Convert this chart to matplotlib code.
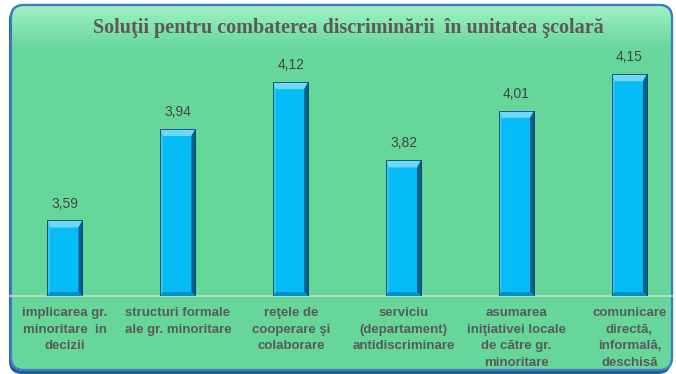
import matplotlib.pyplot as plt
import numpy as np
from matplotlib.patches import FancyBboxPatch, Polygon

# data
categories = [
    "implicarea gr.\nminoritare  in\ndecizii",
    "structuri formale\nale gr. minoritare",
    "reţele de\ncooperare şi\ncolaborare",
    "serviciu\n(departament)\nantidiscriminare",
    "asumarea\niniţiativei locale\nde către gr.\nminoritare",
    "comunicare\ndirectă,\ninformală,\ndeschisă",
]
values = [3.59, 3.94, 4.12, 3.82, 4.01, 4.15]
value_labels = ["3,59", "3,94", "4,12", "3,82", "4,01", "4,15"]
title = "Soluţii pentru combaterea discriminării  în unitatea şcolară"

# colours
green = '#66D69B'
frame_blue = '#3C7DC4'
shadow_blue = '#2A5A96'
bar_main = '#05BCF6'
bar_top = '#6FD8FF'
bar_right = '#0B5F8C'
bar_left = '#34C9F8'
bar_bottom = '#0392C6'
text_dark = '#454545'
label_gray = '#5A5A5A'

W, H = 676, 374
fig = plt.figure(figsize=(W / 100, H / 100), dpi=100)
fig.patch.set_facecolor('white')

# background frame
bg = fig.add_axes([0, 0, 1, 1])
bg.set_xlim(0, W)
bg.set_ylim(H, 0)
bg.axis('off')

fx, fy, fw, fh = 11, 5, 661, 365
shadow = FancyBboxPatch((fx - 2, fy + 2), fw + 1, fh + 2, boxstyle="round,pad=0,rounding_size=13",
                        facecolor=shadow_blue, edgecolor='none')
bg.add_patch(shadow)
frame = FancyBboxPatch((fx, fy), fw, fh, boxstyle="round,pad=0,rounding_size=13",
                       facecolor=green, edgecolor=frame_blue, linewidth=1.6)
bg.add_patch(frame)

# light band at the top of the frame
grad = np.linspace(0, 1, 100).reshape(-1, 1)
top_col = np.array([0.62, 0.94, 0.76])
base_col = np.array([0.40, 0.84, 0.61])
t = np.clip(grad / 0.12, 0, 1)
img = top_col * (1 - t[..., None]) + base_col * t[..., None]
img = np.repeat(img, 2, axis=1)
im = bg.imshow(img, extent=(fx, fx + fw, fy + fh, fy), aspect='auto', zorder=1)
im.set_clip_path(frame)
frame2 = FancyBboxPatch((fx, fy), fw, fh, boxstyle="round,pad=0,rounding_size=13",
                        facecolor='none', edgecolor=frame_blue, linewidth=1.6, zorder=2)
bg.add_patch(frame2)

fig.text(348 / W, 1 - 28 / H, title, ha='center', va='center', fontsize=14.5,
         fontweight='bold', family='Liberation Serif', color=label_gray)

# main axes
left_px, right_px = 8.5, 672
base_px, top_px = 296, 61
ax = fig.add_axes([left_px / W, (H - base_px) / H, (right_px - left_px) / W, (base_px - top_px) / H])
ax.set_facecolor('none')
step = 112.9
ax.set_xlim(-0.5, -0.5 + (right_px - left_px) / step)
ymin, ymax = 3.3, 4.2
ax.set_ylim(ymin, ymax)

x = np.arange(len(values))
heights = [v - ymin for v in values]
bars = ax.bar(x, heights, bottom=ymin, width=0.31, color=bar_main,
              edgecolor='#16465F', linewidth=0.6, zorder=3)

# bevel facets built from each bar's geometry
dx = 4 / step
dy = 4 / ((base_px - top_px) / (ymax - ymin))
for r in bars:
    x0, y0 = r.get_x(), r.get_y()
    x1, y1 = x0 + r.get_width(), y0 + r.get_height()
    facets = [
        ([(x0, y1), (x1, y1), (x1 - dx, y1 - 1.8 * dy), (x0 + dx * 0.6, y1 - 1.8 * dy)], bar_top),
        ([(x1, y1), (x1, y0), (x1 - dx, y0 + dy), (x1 - dx, y1 - 1.8 * dy)], bar_right),
        ([(x0, y1), (x0 + dx * 0.6, y1 - 1.8 * dy), (x0 + dx * 0.6, y0 + dy), (x0, y0)], bar_left),
        ([(x0, y0), (x0 + dx * 0.6, y0 + dy), (x1 - dx, y0 + dy), (x1, y0)], bar_bottom),
    ]
    for pts, c in facets:
        ax.add_patch(Polygon(pts, closed=True, facecolor=c, edgecolor='none', zorder=4))
    ax.add_patch(Polygon([(x0, y0), (x0, y1), (x1, y1), (x1, y0)], closed=True,
                         facecolor='none', edgecolor='#16465F', linewidth=0.6, zorder=5))

for xi, v, lab in zip(x, values, value_labels):
    ax.annotate(lab, (xi, v), xytext=(0, 7), textcoords='offset points',
                ha='center', va='bottom', fontsize=10, family='Liberation Sans',
                color=text_dark)

ax.set_xticks(x)
ax.set_xticklabels(categories, fontsize=9.5, fontweight='bold', family='Liberation Sans',
                   color=label_gray, linespacing=1.5)
ax.tick_params(axis='x', length=0, pad=8)
ax.set_yticks([])
for s in ['left', 'right', 'top']:
    ax.spines[s].set_visible(False)
ax.spines['bottom'].set_color('#C4DDCD')
ax.spines['bottom'].set_linewidth(1.2)

fig.savefig('out.png', dpi=100)
